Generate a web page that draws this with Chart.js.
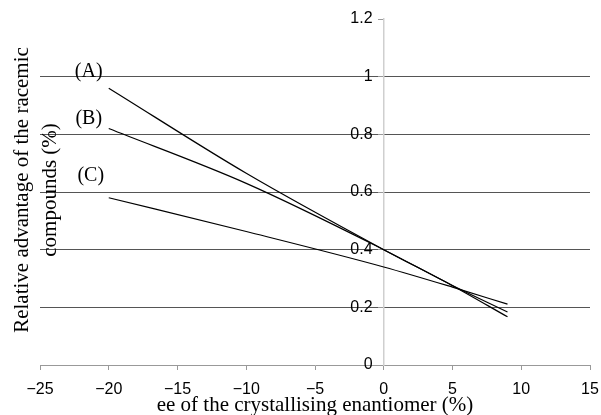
<!DOCTYPE html>
<html>
<head>
<meta charset="utf-8">
<script src="https://cdn.jsdelivr.net/npm/chart.js@4"></script>
<style>
  html, body { margin: 0; padding: 0; background: #fff; }
  #wrap { width: 601px; height: 415px; }
</style>
</head>
<body>
<div id="wrap"><canvas id="ee-chart" width="601" height="415"></canvas></div>
<script>
// ee values (%) and the three curves
var eeValues = [-20, -10, 0, 5, 9];
var curveA = [0.96, 0.665, 0.40, 0.275, 0.167];
var curveB = [0.82, 0.63, 0.40, 0.276, 0.184];
var curveC = [0.58, 0.463, 0.34, 0.270, 0.211];
var curveNames = ["(A)", "(B)", "(C)"];
var xTicks = [-25, -20, -15, -10, -5, 0, 5, 10, 15];
var yTicks = [0, 0.2, 0.4, 0.6, 0.8, 1, 1.2];

function toPoints(ys) {
  return eeValues.map(function (x, i) { return { x: x, y: ys[i] }; });
}

var serif = "'Liberation Serif', 'DejaVu Serif', serif";
var sans = "'Liberation Sans', Arial, sans-serif";

// titles and curve labels drawn by hand, as in the original figure
var textPlugin = {
  id: "textPlugin",
  afterDraw: function (chart) {
    var ctx = chart.ctx;
    var xs = chart.scales.x, ys = chart.scales.y;
    ctx.save();
    ctx.fillStyle = "#000";
    ctx.font = "20px " + serif;
    ctx.textAlign = "center";
    ctx.textBaseline = "middle";

    // curve labels, offset from each curve's first point
    var offsets = [[-20, -16], [-20, -10], [-18, -22]];
    chart.data.datasets.forEach(function (ds, i) {
      var p = ds.data[0];
      ctx.fillText(curveNames[i], xs.getPixelForValue(p.x) + offsets[i][0],
                   ys.getPixelForValue(p.y) + offsets[i][1]);
    });

    // x title
    var area = chart.chartArea;
    ctx.font = "21px " + serif;
    ctx.textBaseline = "alphabetic";
    ctx.fillText("ee of the crystallising enantiomer (%)", (area.left + area.right) / 2, 411);

    // y title, two lines
    ctx.translate(0, 190);
    ctx.rotate(-Math.PI / 2);
    ctx.textBaseline = "middle";
    ctx.fillText("Relative advantage of the racemic", 0, 22);
    ctx.fillText("compounds (%)", 0, 50);
    ctx.restore();
  }
};

var data = {
  datasets: [
    { label: "A", data: toPoints(curveA) },
    { label: "B", data: toPoints(curveB) },
    { label: "C", data: toPoints(curveC) }
  ].map(function (d) {
    d.borderColor = "#000";
    d.borderWidth = 1.2;
    d.pointRadius = 0;
    d.fill = false;
    d.cubicInterpolationMode = "monotone";
    return d;
  })
};

var options = {
  responsive: false,
  animation: false,
  layout: { padding: { left: 40, right: 11, top: 19, bottom: 0 } },
  plugins: { legend: { display: false }, tooltip: { enabled: false } },
  scales: {
    x: {
      type: "linear",
      min: -25,
      max: 15,
      afterBuildTicks: function (scale) {
        scale.ticks = xTicks.map(function (v) { return { value: v }; });
      },
      afterFit: function (scale) {
        scale.height = 50;
        scale.paddingLeft = 0;
        scale.paddingRight = 0;
      },
      border: { color: "#999", width: 1 },
      grid: { drawOnChartArea: false, tickLength: 5, tickColor: "#999" },
      ticks: {
        color: "#000",
        font: { family: sans, size: 16 },
        padding: 10,
        maxRotation: 0,
        callback: function (v) { return v < 0 ? "\u2212" + Math.abs(v) : String(v); }
      }
    },
    y: {
      type: "linear",
      position: { x: 0 },
      min: 0,
      max: 1.2,
      afterBuildTicks: function (scale) {
        scale.ticks = yTicks.map(function (v) { return { value: v }; });
      },
      // axis sits inside the plot, so it should not reserve layout space
      afterFit: function (scale) {
        scale.width = 0;
        scale.paddingTop = 0;
        scale.paddingBottom = 0;
      },
      border: { color: "#cfcfcf", width: 1.5 },
      grid: {
        tickLength: 5,
        tickColor: "#999",
        color: function (c) {
          if (!c.tick) return "#555";
          if (c.tick.value >= 1.2 || c.tick.value === 0) return "rgba(0,0,0,0)";
          return "#555";
        }
      },
      ticks: {
        color: "#000",
        font: { family: sans, size: 16 },
        // labels are right-aligned on the axis line; trailing space keeps them off it
        callback: function (v) { return String(Math.round(v * 10) / 10) + "\u2002\u2009"; }
      }
    }
  }
};

var chart = new Chart(document.getElementById("ee-chart"), {
  type: "line",
  data: data,
  options: options,
  plugins: [textPlugin]
});
</script>
</body>
</html>
